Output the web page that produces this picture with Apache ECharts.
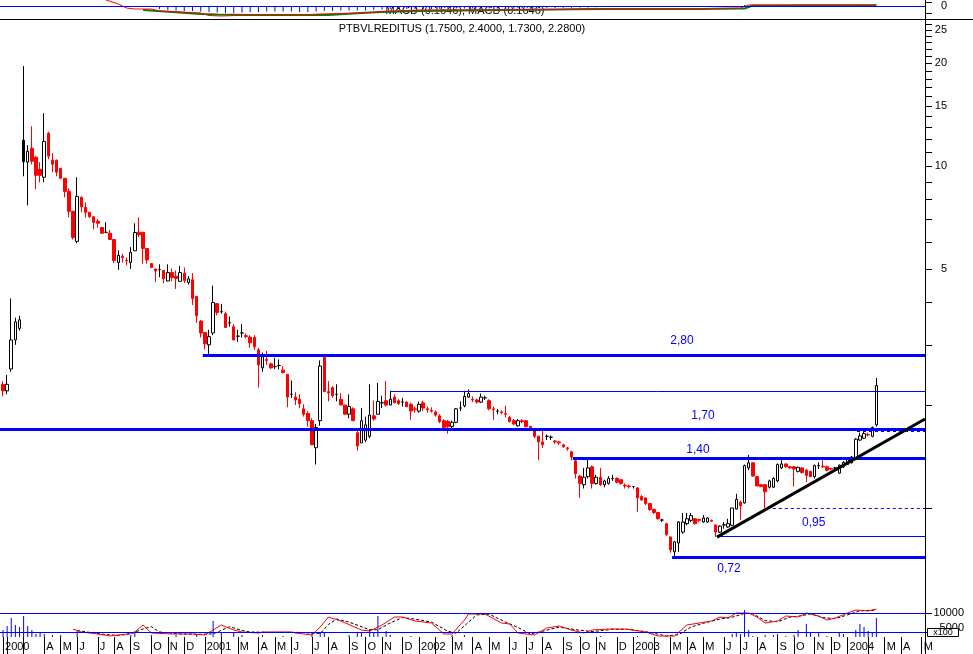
<!DOCTYPE html>
<html><head><meta charset="utf-8">
<script src="https://cdn.jsdelivr.net/npm/echarts@6/dist/echarts.min.js"></script>
<style>html,body{margin:0;padding:0;background:#fff}#c{width:973px;height:654px}</style>
</head><body><div id="c"></div>
<script>
// weekly candles, week 0 = week ending 2000-01-28 ; [open, close, low, high]
const firstWeek = Date.UTC(2000, 0, 28);
const ohlc = [
[2.3,2.2,2.12,2.35],[2.2,2.3,2.15,2.45],[2.55,3.1,2.5,4.1],[3.1,3.5,3.0,3.6],[3.35,3.55,3.3,3.65],
[10.3,11.9,9.33,19.6],[10.26,11.04,7.67,11.5],[11.27,10.33,10.12,13.07],[10.61,9.39,8.55,10.7],[9.78,9.39,8.96,10.26],
[9.27,11.8,8.96,14.27],[12.47,10.68,10.47,12.6],[10.4,10.12,9.59,10.9],[10.4,9.59,9.33,10.45],[9.85,9.21,9.15,9.85],
[9.21,8.43,8.1,9.21],[8.43,7.37,7.08,8.61],[7.37,6.18,6.1,7.4],[6.02,8.15,5.95,9.27],[8.1,7.6,7.32,8.15],
[7.57,7.32,7.07,7.83],[7.32,7.11,7.05,7.35],[7.11,6.84,6.52,7.11],[6.9,6.8,6.6,7.0],[6.61,6.36,6.33,6.61],
[6.4,6.4,6.36,6.85],[6.36,6.1,6.08,6.5],[6.1,5.29,5.2,6.1],[5.22,5.48,4.97,5.67],[5.45,5.4,5.22,5.54],
[5.3,5.28,5.13,5.4],[5.22,5.59,5.0,5.79],[5.65,6.39,5.65,6.8],[6.4,6.3,6.2,7.08],[6.4,5.74,5.18,6.4],
[5.74,5.31,5.18,5.74],[5.19,5.05,5.05,5.19],[5.0,4.93,4.58,5.0],[4.98,4.98,4.73,5.16],[4.95,4.68,4.54,4.95],
[4.61,4.88,4.6,5.16],[4.88,4.72,4.6,5.02],[4.76,4.69,4.37,4.95],[4.6,4.88,4.6,5.1],[4.86,4.62,4.55,5.05],
[4.56,4.68,4.5,4.77],[4.65,4.1,3.92,4.86],[4.16,3.65,3.48,4.16],[3.52,3.25,3.15,3.55],[3.26,3.02,2.91,3.26],
[3.0,3.17,2.78,3.32],[3.25,3.99,3.2,4.47],[3.96,3.73,3.66,3.96],[3.75,3.75,3.7,3.95],[3.7,3.37,3.37,3.75],
[3.48,3.48,3.39,3.63],[3.39,3.1,3.1,3.45],[3.18,3.18,3.06,3.32],[3.25,3.25,3.15,3.45],[3.19,3.17,3.13,3.24],
[3.16,3.04,2.94,3.2],[3.15,2.96,2.9,3.2],[2.9,2.62,2.25,2.94],[2.57,2.77,2.5,2.85],[2.72,2.7,2.62,2.88],
[2.64,2.57,2.55,2.66],[2.59,2.59,2.55,2.75],[2.61,2.61,2.54,2.72],[2.53,2.49,2.47,2.6],[2.46,2.11,1.97,2.46],
[2.15,2.15,2.1,2.36],[2.11,2.07,2.0,2.18],[2.08,2.02,1.96,2.15],[1.95,1.88,1.85,2.01],[1.89,1.8,1.73,1.92],
[1.8,1.53,1.53,1.83],[1.5,1.72,1.34,1.76],[1.8,2.6,1.74,2.7],[2.76,2.19,2.19,2.8],[2.19,2.17,2.05,2.35],
[2.25,2.13,2.1,2.27],[2.15,2.15,2.05,2.3],[2.08,2.0,2.0,2.17],[2.0,1.88,1.88,2.0],[1.88,1.98,1.83,2.15],
[1.95,1.8,1.8,1.97],[1.66,1.52,1.47,1.68],[1.55,1.8,1.55,1.96],[1.58,1.75,1.56,1.85],[1.62,1.87,1.6,2.3],
[1.86,1.82,1.8,2.06],[1.88,2.05,1.88,2.32],[2.03,2.03,1.96,2.13],[2.06,2.0,1.98,2.35],[2.0,2.08,2.0,2.2],
[2.11,2.03,2.03,2.15],[2.06,2.02,2.0,2.08],[2.04,2.04,1.98,2.1],[2.04,1.98,1.97,2.05],[2.01,1.92,1.81,2.03],
[1.95,1.94,1.9,1.98],[1.92,2.01,1.9,2.05],[2.03,1.96,1.92,2.06],[1.95,1.94,1.9,1.98],[1.93,1.92,1.9,1.97],
[1.91,1.87,1.85,1.93],[1.86,1.79,1.77,1.88],[1.8,1.72,1.7,1.82],[1.79,1.73,1.65,1.81],[1.73,1.78,1.69,1.8],
[1.78,1.95,1.77,1.96],[1.96,1.96,1.92,2.05],[1.99,2.12,1.97,2.2],[2.11,2.16,2.1,2.22],[2.08,2.07,2.04,2.12],
[2.07,2.04,2.02,2.09],[2.04,2.11,2.03,2.16],[2.1,2.1,2.07,2.13],[2.06,1.95,1.93,2.08],[1.95,1.94,1.81,1.98],
[1.92,1.92,1.88,1.95],[1.91,1.9,1.88,1.93],[1.89,1.88,1.84,1.99],[1.84,1.79,1.78,1.86],[1.8,1.76,1.75,1.82],
[1.74,1.8,1.73,1.82],[1.8,1.79,1.77,1.82],[1.8,1.73,1.72,1.81],[1.73,1.69,1.68,1.74],[1.69,1.62,1.6,1.7],
[1.62,1.56,1.38,1.63],[1.56,1.53,1.5,1.69],[1.62,1.62,1.58,1.64],[1.61,1.61,1.58,1.63],[1.57,1.56,1.54,1.58],
[1.56,1.55,1.53,1.57],[1.53,1.51,1.5,1.54],[1.5,1.49,1.47,1.51],[1.46,1.41,1.38,1.47],[1.375,1.26,1.22,1.4],
[1.24,1.18,1.07,1.25],[1.17,1.23,1.14,1.31],[1.235,1.31,1.22,1.39],[1.32,1.18,1.14,1.33],[1.18,1.23,1.17,1.25],
[1.23,1.17,1.16,1.31],[1.17,1.2,1.15,1.21],[1.18,1.22,1.17,1.24],[1.22,1.22,1.2,1.25],[1.22,1.19,1.18,1.23],
[1.21,1.18,1.17,1.21],[1.165,1.16,1.14,1.18],[1.16,1.155,1.14,1.17],[1.155,1.155,1.14,1.16],[1.145,1.07,0.975,1.15],
[1.08,1.055,1.05,1.09],[1.07,1.03,1.02,1.075],[1.03,0.99,0.98,1.035],[0.99,0.97,0.96,0.995],[0.97,0.93,0.925,0.975],
[0.922,0.922,0.91,0.93],[0.9,0.835,0.83,0.905],[0.823,0.754,0.74,0.825],[0.745,0.796,0.72,0.8],[0.79,0.91,0.744,0.915],
[0.85,0.91,0.84,0.967],[0.9,0.93,0.89,0.967],[0.92,0.95,0.91,0.967],[0.93,0.9,0.895,0.935],[0.925,0.92,0.91,0.93],
[0.91,0.935,0.905,0.954],[0.91,0.935,0.905,0.94],[0.92,0.915,0.91,0.925],[0.892,0.85,0.823,0.895],[0.85,0.885,0.845,0.89],
[0.892,0.892,0.87,0.91],[0.88,0.9,0.875,0.93],[0.89,1.0,0.885,1.0],[0.993,1.06,0.99,1.1],[1.04,1.015,0.92,1.05],
[1.035,1.33,1.03,1.34],[1.31,1.355,1.29,1.43],[1.355,1.24,1.235,1.36],[1.235,1.16,1.16,1.24],[1.17,1.155,1.15,1.175],
[1.17,1.115,1.0,1.175],[1.15,1.2,1.14,1.21],[1.15,1.22,1.145,1.23],[1.2,1.34,1.19,1.35],[1.31,1.345,1.3,1.38],
[1.345,1.32,1.31,1.35],[1.32,1.31,1.3,1.33],[1.32,1.3,1.155,1.325],[1.28,1.315,1.27,1.32],[1.31,1.27,1.26,1.315],
[1.29,1.245,1.19,1.3],[1.28,1.235,1.23,1.285],[1.235,1.33,1.22,1.34],[1.33,1.33,1.3,1.36],[1.325,1.32,1.31,1.38],
[1.32,1.29,1.28,1.33],[1.305,1.3,1.29,1.31],[1.31,1.31,1.3,1.32],[1.265,1.335,1.26,1.34],[1.32,1.36,1.31,1.37],
[1.34,1.4,1.335,1.41],[1.355,1.41,1.35,1.42],[1.4,1.59,1.39,1.6],[1.58,1.625,1.57,1.66],[1.6,1.65,1.59,1.69],
[1.64,1.635,1.62,1.66],[1.62,1.72,1.61,1.73],[1.75,2.28,1.73,2.4]
];
const blackBodyWeeks = [5];

// volume (x100) [week, value]
const volume = [[0,5526],[1,6579],[2,8684],[3,6842],[4,6316],[5,9210],[6,6579],[7,5526],[8,4473],[9,4736],[10,4473],[12,4210],[14,4210],[18,5263],
[31,4210],[32,4736],[36,4210],[42,4210],[47,4210],[51,7894],[53,4736],[56,4736],[58,4210],[63,4210],[68,3947],[75,4736],[77,5000],[78,5000],
[84,4210],[86,4736],[87,5000],[89,5789],[90,4736],[91,9210],[93,5263],[94,4210],[99,3947],[109,4210],[112,4210],[140,3947],[145,3947],[154,3947],
[177,4473],[178,4736],[179,4473],[180,10790],[181,5526],[182,3947],[185,4210],[187,4210],[188,4473],[190,3947],[192,4210],[193,5526],
[195,7105],[196,4736],[198,5000],[200,3947],[203,5000],[204,4473],[207,5526],[208,7105],[209,6316],[210,5263],[211,5000],[212,8684]];
// oscillator (red solid) and its signal (black dashed)
const oscLine = [[17,5789],[19,5000],[23,4473],[26,3947],[30,4473],[32,5000],[34,6842],[36,4736],[41,4473],[46,4473],[49,4210],[53,6842],
[56,5526],[58,5000],[62,4736],[63,5000],[70,5000],[71,4736],[75,4210],[77,6316],[79,8947],[82,7894],[87,5526],[89,5263],[92,6842],
[95,8947],[97,8947],[100,7894],[104,7368],[107,4473],[109,4473],[112,8158],[113,9737],[117,9737],[121,7368],[123,7105],[125,4736],
[129,4210],[132,6053],[135,6579],[138,5526],[141,4736],[143,5526],[147,5789],[151,5789],[156,5000],[159,3947],[163,3947],[166,6842],
[169,7368],[172,7894],[174,8947],[176,8684],[178,10000],[181,10000],[183,8947],[185,7368],[188,7894],[190,9210],[193,8947],[195,10000],
[198,9210],[200,8158],[202,8684],[205,10000],[207,10790],[210,10526],[212,11053]];
const oscSignal = [[18,5400],[21,4900],[25,4300],[28,4100],[31,4500],[34,5800],[36,6400],[38,5000],[43,4500],[48,4400],[51,4500],[55,6400],
[58,5400],[60,5000],[65,4900],[72,4900],[77,4600],[79,7000],[81,8400],[84,7600],[89,5600],[91,5600],[94,7400],[97,8800],[100,8400],
[104,7600],[108,5200],[110,4700],[113,7600],[115,9500],[118,9700],[122,7600],[125,6200],[128,4500],[131,5200],[135,6300],[139,5600],
[143,5100],[148,5700],[152,5700],[157,4900],[161,3947],[164,4300],[167,6300],[170,7300],[174,8400],[177,8900],[180,9900],[182,9800],
[185,8000],[188,7700],[191,8900],[194,9300],[196,9800],[199,8800],[202,8500],[205,9500],[208,10600],[212,10700]];
// MACD panel
const macdLine = [[25,0.6],[28,0.2],[30,-0.2],[32,-0.3],[36,-0.3],[38,-0.5],[43,-0.6],[48,-0.7],[50,-0.95],[53,-1.0],[60,-0.9],[67,-0.9],
[72,-0.9],[77,-0.8],[82,-0.75],[87,-0.7],[92,-0.55],[101,-0.4],[121,-0.4],[135,-0.35],[145,-0.25],[164,-0.3],[179,-0.2],[181,0.1],[212,0.1]];
const macdSignal = [[34,-0.4],[41,-0.6],[48,-0.8],[52,-0.85],[60,-0.9],[72,-0.9],[79,-0.9],[87,-0.7],[92,-0.6],[101,-0.5],[121,-0.4],
[145,-0.3],[169,-0.3],[180,-0.25],[182,0.05],[212,0.08]];
const macdHist = [[38,-0.3],[40,-0.4],[42,-0.45],[44,-0.5],[46,-0.5],[48,-0.55],[50,-0.6],[52,-0.65],[54,-0.7],[56,-0.7],[58,-0.65],[60,-0.6],
[62,-0.6],[64,-0.55],[66,-0.55],[68,-0.55],[70,-0.55],[72,-0.6],[74,-0.6],[76,-0.55],[78,-0.5],[80,-0.5],[82,-0.45],[84,-0.45],[86,-0.45],
[88,-0.45],[90,-0.4],[92,-0.35],[94,-0.3],[96,-0.3],[98,-0.3],[100,-0.3],[102,-0.3],[104,-0.3],[106,-0.28],[108,-0.28],[110,-0.25],
[112,-0.25],[114,-0.25],[116,-0.25],[118,-0.25],[120,-0.25],[122,-0.25],[124,-0.25],[126,-0.22],[128,-0.22],[130,-0.2],[132,-0.2],
[134,-0.2],[136,-0.18],[138,-0.18],[140,-0.15],[142,-0.15],[144,-0.12],[180,0.1],[195,0.05],[205,0.05]];

// drawn annotation levels: [value, fromWeek, width, dashed]
const XMIN = -0.73, XMAX = 223.8;
const levelLines = [[2.80,48.5,3,0],[2.19,94,1,0],[1.70,XMIN,3,0],[1.40,138.3,3,0],[1.68,207.3,1,1],[1.00,185.4,1,1],[0.828,173.3,1,0],[0.72,162.4,3,0]];
const levelLabels = [['2,80',164.8,3.08],['1,70',169.9,1.86],['1,40',168.7,1.48],['0,95',196.8,0.904],['0,72',176.2,0.663]];
const trendLine = [[173.3,0.822],[223.8,1.82]];
const priceTickLabels = [5,10,15,20,25];
const priceMinorTicks = [1,2,3,4,5,6,7,8,9,10,11,12,13,14,15,16,17,18,19,20,21,22,23,24,25,26];
const macdTicks = [-0.7,0.4];
const volTickLabels = [5000,10000];

const monthInit = ['','F','M','A','M','J','J','A','S','O','N','D'];
const tickWeeks = [0], tickText = {0:'2000'};
for (let w = 1; w <= 224; w++) {
  const d = new Date(firstWeek + w*7*864e5);
  if (d.getUTCDate() <= 7) {
    tickWeeks.push(w);
    const m = d.getUTCMonth();
    let t = m === 0 ? String(d.getUTCFullYear()) : monthInit[m];
    if (m === 1 || (d.getUTCFullYear() === 2000 && m === 2)) t = '';
    tickText[w] = t;
  }
}

const candleData = ohlc.map((d, i) => {
  const item = {value: [i, d[0], d[1], d[2], d[3]]};
  if (blackBodyWeeks.includes(i)) item.itemStyle = {color:'#000', color0:'#000', borderColor:'#000', borderColor0:'#000'};
  return item;
});

const FONT = 'Liberation Sans, Arial, sans-serif';
const blue = '#0000ff';
const markLines = levelLines.map(l => [
  {coord:[l[1], l[0]], lineStyle:{color:blue, width:l[2], type: l[3] ? [3,3] : 'solid'}},
  {coord:[XMAX, l[0]]}
]);
markLines.push([{coord: trendLine[0], lineStyle:{color:'#000', width:3, type:'solid'}}, {coord: trendLine[1]}]);

const xLine = {show:false, onZero:false};
const yLine = {show:true, onZero:false, lineStyle:{color:'#000', width:1}};
const tickStyle = {color:'#000', width:1};
const baseGraphics = [
  {type:'line', shape:{x1:0, y1:19.5, x2:973, y2:19.5}, style:{stroke:'#000', lineWidth:1}},
  {type:'line', shape:{x1:925.5, y1:0, x2:925.5, y2:654}, style:{stroke:'#000', lineWidth:1}},
  {type:'text', x:462, y:29, style:{text:'PTBVLREDITUS (1.7500, 2.4000, 1.7300, 2.2800)', fill:'#000', font:'11px '+FONT, textAlign:'center', textVerticalAlign:'middle'}},
  {type:'text', x:465, y:11, style:{text:'MACD (0.1646), MACD (0.1646)', fill:'#000', font:'11px '+FONT, textAlign:'center', textVerticalAlign:'middle'}}
];
const chart = echarts.init(document.getElementById('c'), null, {renderer:'canvas'});
chart.setOption({
  animation: false,
  backgroundColor: '#fff',
  textStyle: {fontFamily: FONT},
  grid: [
    {left:0, top:0, width:925, height:19},
    {left:0, top:20, width:925, height:587},
    {left:0, top:607, width:925, height:30}
  ],
  xAxis: [0,1,2].map(g => ({
    type:'value', gridIndex:g, min:XMIN, max:XMAX, splitLine:{show:false},
    axisLine: xLine,
    axisTick: g === 2 ? {show:true, customValues: tickWeeks, length:17, lineStyle:tickStyle} : {show:false},
    axisLabel: g === 2 ? {show:true, customValues: tickWeeks, formatter: v => tickText[Math.round(v)] || '', align:'left',
      padding:[0,0,0,2], margin:4, color:'#000', fontSize:11, fontFamily:FONT} : {show:false}
  })),
  yAxis: [
    {type:'value', gridIndex:0, min:-1.3, max:0.6, position:'right', splitLine:{show:false},
     axisLine: yLine, axisTick:{show:false},
     axisLabel:{customValues:[0], formatter:()=> '0', align:'right', margin:22, color:'#000', fontSize:11}},
    {type:'log', logBase:10, gridIndex:1, min:0.5134, max:26.73, position:'right', splitLine:{show:false},
     axisLine: yLine, axisTick:{show:false},
     axisLabel:{customValues:priceTickLabels, align:'right', margin:22, color:'#000', fontSize:11, fontFamily:FONT}},
    {type:'value', gridIndex:2, min:3684, max:11579, position:'right', splitLine:{show:false},
     axisLine: yLine, axisTick:{show:false},
     axisLabel:{customValues:volTickLabels, formatter: v => v === 5000 ? '{up|5000}' : String(v), align:'right', margin:39,
       color:'#000', fontSize:11, fontFamily:FONT, rich:{up:{fontSize:11, fontFamily:FONT, color:'#000', padding:[0,0,9,0]}}}}
  ],
  series: [
    {type:'bar', xAxisIndex:0, yAxisIndex:0, data: macdHist, barWidth:1, itemStyle:{color:blue}, silent:true,
     markLine:{silent:true, symbol:'none', label:{show:false}, data:[{yAxis:0, lineStyle:{color:blue, width:1, type:'solid'}}]}},
    {type:'line', xAxisIndex:0, yAxisIndex:0, data: macdSignal, symbol:'none', lineStyle:{color:'#008000', width:2}},
    {type:'line', xAxisIndex:0, yAxisIndex:0, data: macdLine, symbol:'none', lineStyle:{color:'#ff0000', width:1}},
    {type:'candlestick', xAxisIndex:1, yAxisIndex:1, data: candleData, barWidth:3,
     itemStyle:{color:'#fff', color0:'#ff0000', borderColor:'#000', borderColor0:'#ff0000', borderColorDoji:'#000', borderWidth:1},
     markLine:{silent:true, symbol:'none', label:{show:false}, data: markLines},
     markPoint:{silent:true, symbol:'circle', symbolSize:0,
       data: levelLabels.map(l => ({coord:[l[1], l[2]], label:{show:true, formatter:l[0], color:blue, fontSize:12, fontFamily:FONT, position:'inside'}}))}
    },
    {type:'bar', xAxisIndex:2, yAxisIndex:2, data: volume, barWidth:1, itemStyle:{color:blue}, silent:true,
     markLine:{silent:true, symbol:'none', label:{show:false}, data:[{yAxis:10000},{yAxis:5000}], lineStyle:{color:blue, width:1, type:'solid'}}},
    {type:'line', xAxisIndex:2, yAxisIndex:2, data: oscSignal, symbol:'none', lineStyle:{color:'#000', width:1, type:[3,2]}},
    {type:'line', xAxisIndex:2, yAxisIndex:2, data: oscLine, symbol:'none', lineStyle:{color:'#ff0000', width:1}}
  ],
  graphic: baseGraphics
});

// right-hand axis ticks, positioned through each grid's own scales
const tickGraphics = [];
[[0, macdTicks], [1, priceMinorTicks], [2, volTickLabels]].forEach(([gi, vals]) => {
  vals.forEach(v => {
    const p = chart.convertToPixel({gridIndex: gi}, [XMAX, v]);
    if (!p || !isFinite(p[1])) return;
    const yy = Math.round(p[1]) + 0.5;
    tickGraphics.push({type:'line', shape:{x1:Math.round(p[0]) + 1, y1:yy, x2:Math.round(p[0]) + 7, y2:yy},
      style:{stroke:'#000', lineWidth:1}, z:100});
  });
});
chart.setOption({graphic: baseGraphics.concat(tickGraphics, [
  {type:'rect', shape:{x:927.5, y:628.5, width:31, height:8}, style:{fill:'#fff', stroke:'#000', lineWidth:1}, z:101},
  {type:'text', x:943, y:633, style:{text:'x100', fill:'#000', font:'9px '+FONT, textAlign:'center', textVerticalAlign:'middle'}, z:102}
])}, {replaceMerge:['graphic']});
</script></body></html>
